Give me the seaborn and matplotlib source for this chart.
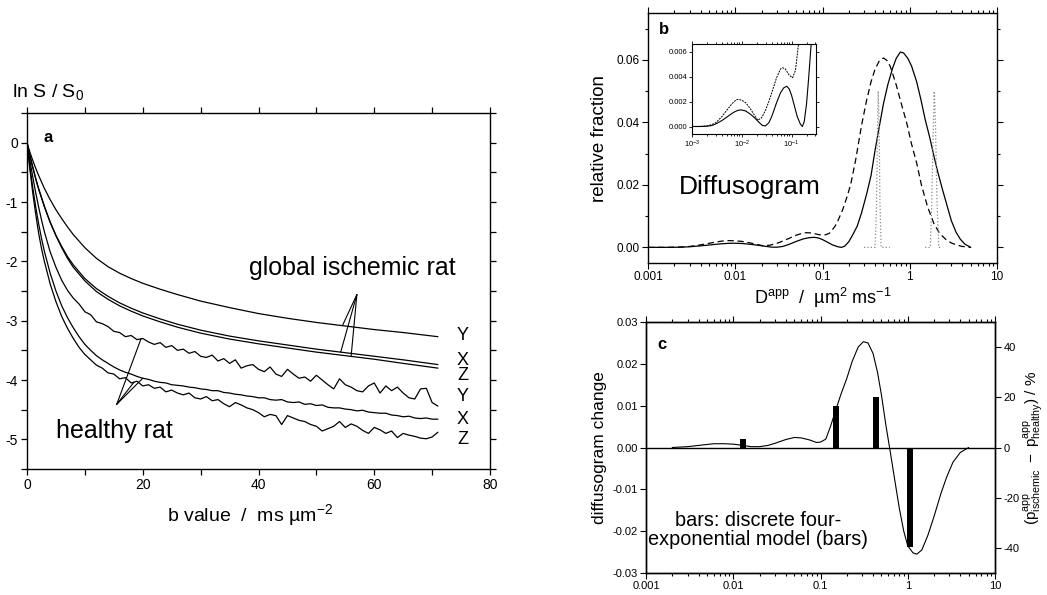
import numpy as np
import matplotlib
matplotlib.use("Agg")
import matplotlib.pyplot as plt
import seaborn as sns
from matplotlib.ticker import (MultipleLocator, LogLocator, FixedLocator,
                               NullFormatter, FormatStrFormatter, FuncFormatter)

# ---------------- panel a : ln S/S0 vs b ----------------
b_isch = [0, 0.5, 1, 1.5, 2, 3, 4, 5, 6, 7, 8, 10, 12, 14, 16, 18, 20, 23, 26, 30,
          35, 40, 45, 50, 55, 60, 65, 71]
isch_Y = [0, -0.16, -0.30, -0.43, -0.55, -0.77, -0.96, -1.13, -1.28, -1.42, -1.55, -1.77,
          -1.95, -2.09, -2.20, -2.29, -2.37, -2.47, -2.56, -2.67, -2.78, -2.88, -2.96,
          -3.03, -3.09, -3.15, -3.20, -3.27]
isch_X = [0, -0.22, -0.42, -0.61, -0.78, -1.08, -1.34, -1.56, -1.75, -1.92, -2.06, -2.29,
          -2.46, -2.59, -2.70, -2.79, -2.87, -2.97, -3.06, -3.16, -3.26, -3.34, -3.41,
          -3.48, -3.54, -3.60, -3.66, -3.74]
isch_Z = [0, -0.21, -0.41, -0.60, -0.77, -1.07, -1.34, -1.57, -1.77, -1.95, -2.10, -2.33,
          -2.51, -2.64, -2.75, -2.84, -2.92, -3.02, -3.11, -3.21, -3.31, -3.39, -3.46,
          -3.53, -3.59, -3.65, -3.72, -3.80]

b_healthy = [0, 0.5, 1, 1.5, 2, 2.5, 3, 4, 5, 6, 7, 8,
             9, 10, 11, 12, 13, 14, 15, 16, 17, 18, 19, 20,
             21, 22, 23, 24, 25, 26, 27, 28, 29, 30,
             31, 32, 33, 34, 35, 36, 37, 38, 39, 40,
             41, 42, 43, 44, 45, 46, 47, 48, 49, 50,
             51, 52, 53, 54, 55, 56, 57, 58, 59, 60,
             61, 62, 63, 64, 65, 66, 67, 68, 69, 70, 71]
healthy_Y = [0, -0.30, -0.58, -0.84, -1.08, -1.30, -1.50, -1.84, -2.10, -2.32, -2.49, -2.62,
             -2.72, -2.85, -2.90, -3.02, -3.05, -3.10, -3.18, -3.20, -3.27, -3.25, -3.32, -3.30,
             -3.36, -3.40, -3.37, -3.45, -3.42, -3.50, -3.48, -3.55, -3.52, -3.60,
             -3.62, -3.58, -3.68, -3.64, -3.72, -3.66, -3.80, -3.76, -3.74, -3.82,
             -3.86, -3.78, -3.90, -3.94, -3.82, -3.90, -3.97, -3.95, -4.02, -3.92,
             -4.00, -4.08, -4.15, -3.98, -4.08, -4.12, -4.18, -4.20, -4.10, -4.05,
             -4.22, -4.10, -4.18, -4.12, -4.22, -4.30, -4.32, -4.15, -4.14, -4.38, -4.44]
healthy_X = [0, -0.40, -0.76, -1.08, -1.36, -1.61, -1.83, -2.20, -2.50, -2.75, -2.95, -3.12,
             -3.27, -3.40, -3.50, -3.59, -3.66, -3.72, -3.78, -3.83, -3.87, -3.90, -3.94, -3.97,
             -3.99, -4.02, -4.04, -4.05, -4.08, -4.09, -4.10, -4.12, -4.13, -4.15,
             -4.16, -4.18, -4.18, -4.21, -4.22, -4.24, -4.25, -4.27, -4.28, -4.30,
             -4.30, -4.33, -4.34, -4.33, -4.37, -4.38, -4.37, -4.41, -4.40, -4.43,
             -4.42, -4.46, -4.47, -4.47, -4.49, -4.50, -4.52, -4.51, -4.54, -4.55,
             -4.56, -4.56, -4.59, -4.60, -4.62, -4.61, -4.64, -4.65, -4.64, -4.66, -4.66]
healthy_Z = [0, -0.45, -0.85, -1.20, -1.52, -1.78, -2.00, -2.38, -2.68, -2.93, -3.13, -3.30,
             -3.45, -3.57, -3.66, -3.75, -3.80, -3.88, -3.90, -3.98, -3.96, -4.05, -4.02, -4.10,
             -4.08, -4.14, -4.12, -4.20, -4.17, -4.22, -4.25, -4.22, -4.30, -4.32,
             -4.28, -4.35, -4.33, -4.40, -4.45, -4.38, -4.42, -4.47, -4.50, -4.55,
             -4.62, -4.58, -4.60, -4.75, -4.60, -4.64, -4.68, -4.70, -4.75, -4.78,
             -4.86, -4.82, -4.78, -4.70, -4.80, -4.74, -4.78, -4.85, -4.90, -4.80,
             -4.84, -4.90, -4.86, -4.97, -4.90, -4.93, -4.95, -4.98, -4.99, -4.96, -4.88]
end_labels = ["Y", "X", "Z", "Y", "X", "Z"]
end_label_y = [-3.25, -3.67, -3.93, -4.28, -4.66, -5.00]

# ---------------- panel b : diffusogram ----------------
solid_D = [0.001, 0.0015, 0.002, 0.0025, 0.003, 0.004, 0.005, 0.006, 0.007, 0.008, 0.009,
           0.01, 0.012, 0.015, 0.018, 0.022, 0.026, 0.03, 0.035, 0.04, 0.05, 0.06, 0.07,
           0.08, 0.09, 0.1, 0.115, 0.13, 0.15, 0.165, 0.18, 0.2, 0.22, 0.25, 0.28, 0.32,
           0.36, 0.4, 0.45, 0.5, 0.56, 0.63, 0.7, 0.78, 0.85, 0.95, 1.05, 1.2, 1.35, 1.5,
           1.7, 1.9, 2.1, 2.4, 2.7, 3.0, 3.4, 3.8, 4.3, 5.0]
solid_f = [0, 0, 0.00002, 0.00008, 0.0002, 0.00048, 0.00075, 0.00098, 0.00115, 0.00126,
           0.00132, 0.00132, 0.00124, 0.00098, 0.0007, 0.00035, 0.00008, 0.00005, 0.0003,
           0.0008, 0.0019, 0.0027, 0.0031, 0.00322, 0.003, 0.0025, 0.0016, 0.0008, 0.0002,
           0.0, 0.0004, 0.0018, 0.0038, 0.0068, 0.011, 0.017, 0.023, 0.031, 0.039, 0.046,
           0.052, 0.057, 0.0605, 0.0625, 0.0622, 0.0605, 0.058, 0.053, 0.047, 0.041,
           0.035, 0.029, 0.024, 0.018, 0.013, 0.0085, 0.0048, 0.0026, 0.001, 0.0]
dashed_D = [0.001, 0.0015, 0.002, 0.0025, 0.003, 0.004, 0.005, 0.006, 0.007, 0.008, 0.009,
            0.01, 0.012, 0.015, 0.018, 0.021, 0.025, 0.03, 0.035, 0.04, 0.05, 0.06, 0.066,
            0.075, 0.09, 0.105, 0.12, 0.138, 0.15, 0.17, 0.19, 0.21, 0.24, 0.28, 0.32,
            0.36, 0.4, 0.45, 0.5, 0.55, 0.6, 0.7, 0.8, 0.92, 1.05, 1.2, 1.36, 1.6, 1.9,
            2.2, 2.6, 3.0, 3.5, 4.0, 5.0]
dashed_f = [0, 0.00001, 0.00005, 0.00015, 0.0003, 0.0008, 0.0013, 0.0017, 0.002, 0.00216,
            0.00215, 0.0021, 0.0019, 0.0014, 0.0009, 0.0005, 0.0007, 0.0013, 0.002, 0.0027,
            0.0039, 0.0046, 0.0047, 0.0046, 0.0041, 0.0039, 0.0045, 0.0066, 0.0085, 0.012,
            0.016, 0.02, 0.028, 0.039, 0.047, 0.053, 0.057, 0.0598, 0.0606, 0.0598, 0.0578,
            0.052, 0.046, 0.04, 0.033, 0.027, 0.02, 0.013, 0.0075, 0.0045, 0.0025, 0.0014,
            0.0007, 0.0003, 0.0]
spike1_D = [0.30, 0.40, 0.415, 0.425, 0.435, 0.445, 0.455, 0.47, 0.59]
spike1_f = [0, 0, 0.012, 0.035, 0.05, 0.04, 0.015, 0, 0]
spike2_D = [1.50, 1.72, 1.78, 1.85, 1.91, 1.97, 2.05, 2.15, 2.30]
spike2_f = [0, 0, 0.012, 0.035, 0.05, 0.04, 0.015, 0, 0]

# ---------------- panel c : diffusogram change ----------------
change_D = [0.002, 0.003, 0.004, 0.006, 0.008, 0.01, 0.013, 0.016, 0.02, 0.025, 0.03, 0.04,
            0.05, 0.06, 0.075, 0.09, 0.1, 0.115, 0.13, 0.15, 0.17, 0.2, 0.23, 0.27, 0.31,
            0.35, 0.4, 0.45, 0.5, 0.56, 0.63, 0.7, 0.8, 0.9, 1.0, 1.15, 1.27, 1.45, 1.7,
            2.0, 2.4, 2.8, 3.3, 4.0, 5.0]
change_v = [0, 0.0002, 0.0005, 0.0009, 0.0009, 0.0008, 0.0005, 0.0002, 0.0002, 0.0005,
            0.001, 0.0019, 0.0024, 0.0023, 0.0018, 0.0012, 0.0013, 0.002, 0.005, 0.009,
            0.0125, 0.0165, 0.0205, 0.024, 0.0253, 0.025, 0.0225, 0.018, 0.0125, 0.0055,
            -0.001, -0.007, -0.0145, -0.02, -0.0235, -0.0252, -0.0255, -0.0245, -0.021,
            -0.0165, -0.011, -0.007, -0.0035, -0.0012, 0.0]
bar_D = [0.0128, 0.150, 0.435, 1.06]
bar_pct = [3.5, 16.4, 20.0, -39.6]

# ---------------- style ----------------
sns.set_style("ticks")
plt.rcParams.update({
    "font.family": ["Liberation Sans", "DejaVu Sans"],
    "axes.unicode_minus": False,
    "mathtext.fontset": "custom",
    "mathtext.rm": "Liberation Sans",
    "mathtext.it": "Liberation Sans:italic",
    "mathtext.bf": "Liberation Sans:bold",
    "mathtext.sf": "Liberation Sans",
    "axes.edgecolor": "black",
    "axes.linewidth": 1.0,
    "xtick.color": "black",
    "ytick.color": "black",
    "text.color": "black",
    "axes.labelcolor": "black",
    "xtick.direction": "out",
    "ytick.direction": "out",
})

W, H = 1047, 595
fig = plt.figure(figsize=(W / 100, H / 100), dpi=100)


def rect(l, t, r, b):
    return [l / W, 1 - b / H, (r - l) / W, (b - t) / H]


def line(ax, x, y, **kw):
    kw.setdefault("color", "black")
    kw.setdefault("lw", 0.9)
    sns.lineplot(x=x, y=y, ax=ax, estimator=None, sort=False, legend=False, **kw)


# ===== panel a =====
axa = fig.add_axes(rect(27, 113, 490, 469))
for ys in (isch_Y, isch_X, isch_Z):
    line(axa, b_isch, ys)
for ys in (healthy_Y, healthy_X, healthy_Z):
    line(axa, b_healthy, ys)
axa.set_xlim(0, 80)
axa.set_ylim(-5.5, 0.5)
axa.xaxis.set_major_locator(MultipleLocator(20))
axa.xaxis.set_minor_locator(MultipleLocator(10))
axa.yaxis.set_major_locator(MultipleLocator(1))
axa.yaxis.set_minor_locator(MultipleLocator(0.5))
axa.yaxis.set_major_formatter(FormatStrFormatter("%d"))
axa.tick_params(which="both", top=True, right=True, labeltop=False, labelright=False,
                labelsize=10, width=0.9, pad=2)
axa.tick_params(which="major", length=4.5)
axa.tick_params(which="minor", length=4.5)
axa.set_xlabel("b value  /  ms µm$^{-2}$", fontsize=14, labelpad=7)
axa.xaxis.set_label_coords(0.482, -0.092)
axa.set_ylabel("")
for lab, yy in zip(end_labels, end_label_y):
    axa.text(74.3, yy, lab, fontsize=13, va="center", ha="left")
axa.text(38.3, -2.12, "global ischemic rat", fontsize=18, va="center", ha="left")
axa.text(5.0, -4.86, "healthy rat", fontsize=18, va="center", ha="left")
axa.text(0.035, 0.931, "a", transform=axa.transAxes, fontsize=12, weight="bold",
         va="center", ha="left")
# pointer lines (ends taken from the curves themselves)
apex_i = (57.0, -2.56)
for bb, xs, ys in ((54.5, b_isch, isch_Y), (54.2, b_isch, isch_X), (56.0, b_isch, isch_Z)):
    axa.plot([apex_i[0], bb], [apex_i[1], np.interp(bb, xs, ys)], color="black", lw=0.8)
apex_h = (15.5, -4.41)
for bb, xs, ys in ((19.7, b_healthy, healthy_Y), (20.0, b_healthy, healthy_X),
                   (18.5, b_healthy, healthy_Z)):
    axa.plot([apex_h[0], bb], [apex_h[1], np.interp(bb, xs, ys)], color="black", lw=0.8)
fig.text(12 / W, 1 - 92 / H, "ln S / S$_0$", fontsize=14, va="center", ha="left")


def logfmt(v, pos):
    return "%g" % v


# ===== panel b =====
axb = fig.add_axes(rect(648, 13, 997, 263))
line(axb, solid_D, solid_f)
line(axb, dashed_D, dashed_f, linestyle=(0, (5, 3)))
line(axb, spike1_D, spike1_f, color="#8a8a8a", linestyle=":")
line(axb, spike2_D, spike2_f, color="#8a8a8a", linestyle=":")
axb.set_xscale("log")
axb.set_xlim(0.001, 10)
axb.set_ylim(-0.005, 0.075)
axb.xaxis.set_major_locator(LogLocator(base=10, numticks=10))
axb.xaxis.set_minor_locator(LogLocator(base=10, subs=np.arange(2, 10), numticks=20))
axb.xaxis.set_major_formatter(FuncFormatter(logfmt))
axb.xaxis.set_minor_formatter(NullFormatter())
axb.yaxis.set_major_locator(FixedLocator([0, 0.02, 0.04, 0.06]))
axb.yaxis.set_minor_locator(MultipleLocator(0.01))
axb.yaxis.set_major_formatter(FormatStrFormatter("%.2f"))
axb.tick_params(which="both", top=True, right=True, labeltop=False, labelright=False,
                labelsize=8.5, width=0.8, pad=2)
axb.tick_params(which="major", length=4)
axb.tick_params(which="minor", length=2.5)
axb.set_xlabel("D$^{\\rm app}$  /  µm$^2$ ms$^{-1}$", fontsize=13, labelpad=2)
axb.set_ylabel("relative fraction", fontsize=13.5, labelpad=6)
axb.text(0.089, 0.304, "Diffusogram", transform=axb.transAxes, fontsize=19,
         va="center", ha="left")
axb.text(0.03, 0.932, "b", transform=axb.transAxes, fontsize=12, weight="bold",
         va="center", ha="left")

# inset
axi = fig.add_axes(rect(692, 44, 816, 134))
line(axi, solid_D, solid_f, lw=0.8)
line(axi, dashed_D, dashed_f, lw=0.7, linestyle=(0, (2, 1)))
axi.set_xscale("log")
axi.set_xlim(0.001, 0.31)
axi.set_ylim(-0.0006, 0.0066)
axi.xaxis.set_major_locator(LogLocator(base=10, numticks=10))
axi.xaxis.set_minor_locator(LogLocator(base=10, subs=np.arange(2, 10), numticks=20))
axi.xaxis.set_minor_formatter(NullFormatter())
axi.yaxis.set_major_locator(FixedLocator([0, 0.002, 0.004, 0.006]))
axi.yaxis.set_major_formatter(FormatStrFormatter("%.3f"))
axi.tick_params(which="both", top=True, right=True, labeltop=False, labelright=False,
                labelsize=5.5, width=0.6, pad=1.5)
axi.tick_params(which="major", length=2)
axi.tick_params(which="minor", length=1.2)
for s in axi.spines.values():
    s.set_linewidth(0.8)
axi.set_xlabel("")
axi.set_ylabel("")

# ===== panel c =====
axc = fig.add_axes(rect(646, 322, 995, 573))
line(axc, change_D, change_v, lw=0.8)
axc.axhline(0, color="black", lw=1.0)
axc.set_xscale("log")
axc.set_xlim(0.001, 10)
axc.set_ylim(-0.03, 0.03)
axc.xaxis.set_major_locator(LogLocator(base=10, numticks=10))
axc.xaxis.set_minor_locator(LogLocator(base=10, subs=np.arange(2, 10), numticks=20))
axc.xaxis.set_major_formatter(FuncFormatter(logfmt))
axc.xaxis.set_minor_formatter(NullFormatter())
axc.yaxis.set_major_locator(MultipleLocator(0.01))
axc.yaxis.set_major_formatter(FormatStrFormatter("%.2f"))
axc.tick_params(which="both", top=True, labeltop=False, labelsize=8, width=0.8, pad=2)
axc.tick_params(which="major", length=4)
axc.tick_params(which="minor", length=2.5)
axc.set_xlabel("")
axc.set_ylabel("diffusogram change", fontsize=12.5, labelpad=4)
axc.text(0.034, 0.912, "c", transform=axc.transAxes, fontsize=12, weight="bold",
         va="center", ha="left")
axc.text(0.32, 0.17, "bars: discrete four-\nexponential model (bars)",
         transform=axc.transAxes, fontsize=14.3, va="center", ha="center",
         linespacing=1.0)

axc2 = axc.twinx()
axc2.vlines(bar_D, 0, bar_pct, colors="black", lw=4.3, capstyle="butt")
axc2.set_ylim(-50, 50)
axc2.yaxis.set_major_locator(FixedLocator([-40, -20, 0, 20, 40]))
axc2.yaxis.set_major_formatter(FormatStrFormatter("%d"))
axc2.tick_params(axis="y", labelsize=8, length=4, width=0.8, pad=2)
axc2.set_ylabel(r"$(\mathrm{p}^{\mathrm{app}}_{\mathrm{ischemic}}\ -\ "
                r"\mathrm{p}^{\mathrm{app}}_{\mathrm{healthy}})$ / %",
                fontsize=11, labelpad=2)
for s in axc2.spines.values():
    s.set_linewidth(1.0)

fig.savefig("out.png", dpi=100)
